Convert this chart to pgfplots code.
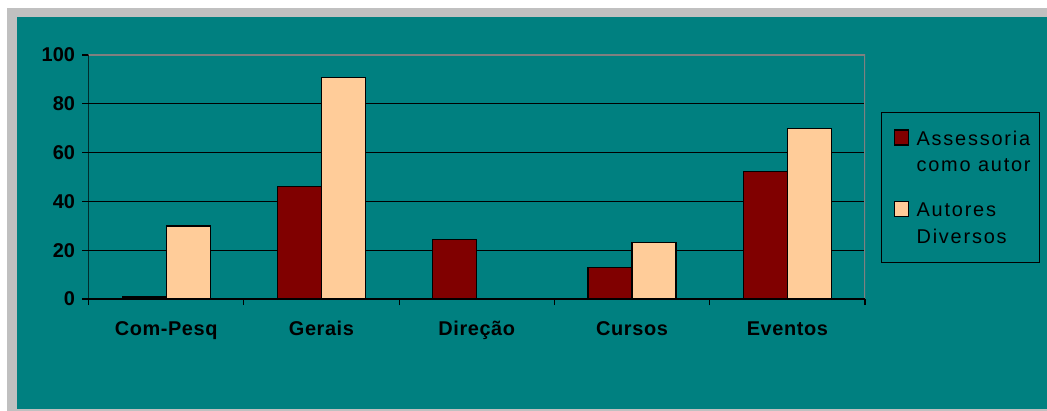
\documentclass[border=0pt]{standalone}
\usepackage{pgfplots}
\pgfplotsset{compat=1.18}
\usepackage{fontspec}
\setmainfont{Liberation Sans}
\newfontfamily\lsfont[LetterSpace=9]{Liberation Sans}
\newfontfamily\lsbfont[LetterSpace=3]{Liberation Sans Bold}
\definecolor{bgteal}{HTML}{008080}
\definecolor{frgray}{HTML}{C0C0C0}
\definecolor{darkred}{HTML}{800000}
\definecolor{peach}{HTML}{FFCC99}
\definecolor{pagray}{HTML}{808080}
\begin{document}
\begin{tikzpicture}
\fill[white] (0,0) rectangle (1047bp,411bp);
\fill[frgray] (7bp,0) rectangle (1047bp,403bp);
\fill[bgteal] (17bp,2bp) rectangle (1047bp,394bp);
\begin{axis}[
  at={(88.5bp,112bp)}, anchor=south west,
  scale only axis, width=776.5bp, height=244bp,
  xmin=-0.5, xmax=4.5, ymin=0, ymax=100,
  /pgf/number format/assume math mode=true,
  ytick={0,20,...,100},
  xtick={0,...,4},
  xticklabels={Com-Pesq,Gerais,Direção,Cursos,Eventos},
  minor xtick={-0.5,0.5,...,4.5},
  major x tick style={draw=none},
  tick align=outside,
  xtick pos=bottom, ytick pos=left,
  major tick length=6bp, minor tick length=6bp,
  tick style={black, line width=1.2bp},
  axis line style={draw=none},
  ymajorgrids,
  major grid style={black, line width=1.2bp},
  yticklabel style={font=\fontsize{20}{24}\selectfont\bfseries, xshift=-4bp},
  xticklabel style={font=\lsbfont\fontsize{20}{24}\selectfont, yshift=-13bp},
  ybar=0pt, bar width=44bp,
  legend style={at={(1.0206,0.7664)}, anchor=north west,
    fill=bgteal, draw=black, line width=1.2bp,
    font=\lsfont\fontsize{20}{27}\selectfont,
    cells={anchor=west, align=left},
    inner xsep=7bp, inner ysep=16bp, row sep=25bp},
]
\addplot[fill=darkred, draw=black, line width=1.2bp,
  legend image code/.code={\path[draw=none, fill=none] (0bp,-8bp) rectangle (26bp,22bp); \draw[fill=darkred, draw=black, line width=1.2bp] (6bp,7bp) rectangle (20bp,22bp);}]
  coordinates {(0,0.8) (1,46.2) (2,24.5) (3,12.9) (4,52.3)};
\addlegendentry{Assessoria\\como autor}
\addplot[fill=peach, draw=black, line width=1.2bp,
  legend image code/.code={\path[draw=none, fill=none] (0bp,-8bp) rectangle (26bp,22bp); \draw[fill=peach, draw=black, line width=1.2bp] (6bp,7bp) rectangle (20bp,22bp);}]
  coordinates {(0,29.9) (1,90.8) (3,23) (4,69.9)};
\addlegendentry{Autores\\Diversos}
\draw[pagray, line width=1.2bp] (rel axis cs:0,1) -- (rel axis cs:1,1) -- (rel axis cs:1,0);
\draw[black, line width=1.2bp] (rel axis cs:0,1) -- (rel axis cs:0,0) -- (rel axis cs:1,0);
\end{axis}
\pgfresetboundingbox
\path (0,0) rectangle (1047bp,411bp);
\end{tikzpicture}
\end{document}
